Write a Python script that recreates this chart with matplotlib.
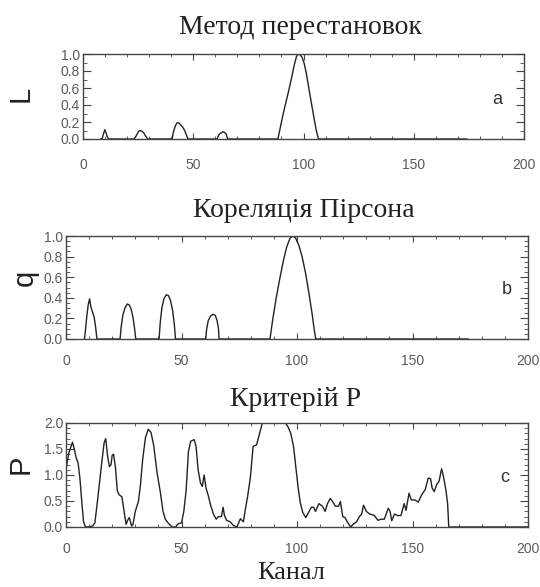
import numpy as np
import matplotlib
matplotlib.use('Agg')
import matplotlib.pyplot as plt
from matplotlib.ticker import MultipleLocator

# panel a: permutation method
chan_a = [8, 8.6, 9.3, 9.9, 10.5, 11.1, 11.7,
          23.2, 24.2, 25.2, 25.9, 26.8, 27.6, 28.5, 29.4,
          40.4, 41.0, 41.8, 42.6, 43.3, 44.2, 45.2, 46.1, 47.0, 47.6,
          60.8, 61.6, 62.5, 63.4, 64.1, 64.9, 65.6,
          88.4, 89.2, 90.0, 91.0, 92.2, 93.4, 94.6, 95.8, 96.8, 97.6, 98.5, 99.4,
          100.3, 101.3, 102.4, 103.6, 104.8, 105.9, 106.8, 174]
L_vals = [0, 0, 0.06, 0.11, 0.07, 0.02, 0,
          0, 0.04, 0.09, 0.10, 0.09, 0.07, 0.03, 0,
          0, 0.08, 0.15, 0.19, 0.19, 0.17, 0.14, 0.10, 0.04, 0,
          0, 0.05, 0.07, 0.085, 0.08, 0.06, 0,
          0, 0.10, 0.20, 0.32, 0.45, 0.58, 0.72, 0.87, 0.97, 1.0, 0.99, 0.96,
          0.89, 0.77, 0.60, 0.42, 0.24, 0.09, 0, 0]

# panel b: Pearson correlation
chan_b = [8, 8.4, 9.0, 9.6, 10.2, 10.8, 11.5, 12.2, 12.8, 13.4,
          23.4, 23.9, 24.6, 25.5, 26.5, 27.4, 28.2, 29.0, 29.7, 30.2,
          40.3, 40.8, 41.5, 42.4, 43.4, 44.4, 45.3, 46.2, 46.9, 47.4,
          60.5, 60.9, 61.6, 62.5, 63.6, 64.6, 65.4, 66.0, 66.3,
          88.3, 89.5, 91.0, 92.5, 94.0, 95.5, 97.0, 98.2, 99.4, 100.8, 102.2,
          103.7, 105.2, 106.5, 107.4, 108.1, 174]
q_vals = [0, 0.08, 0.22, 0.33, 0.39, 0.31, 0.26, 0.21, 0.12, 0,
          0, 0.12, 0.23, 0.30, 0.34, 0.33, 0.29, 0.21, 0.10, 0,
          0, 0.16, 0.30, 0.39, 0.43, 0.42, 0.37, 0.27, 0.14, 0,
          0, 0.10, 0.18, 0.22, 0.24, 0.23, 0.18, 0.10, 0,
          0, 0.19, 0.40, 0.58, 0.75, 0.89, 0.98, 1.0, 0.98, 0.91, 0.80,
          0.64, 0.44, 0.25, 0.10, 0, 0]

# panel c: P criterion
chan_c = [0, 1.2, 2.8, 3.6, 4.4, 5.2, 6.0, 6.8, 7.6, 8.4, 10.0, 11.5, 12.5, 13.5,
          14.5, 15.5, 16.5, 17.2, 18.0, 18.8, 19.5, 20.0, 20.6, 21.4, 22.2, 23.0,
          24.2, 25.0, 26.0, 26.8, 27.4, 28.4, 29.0, 30.0, 31.4, 32.2, 33.2, 34.4,
          35.6, 36.8, 38.0, 39.4, 40.8, 42.0, 43.0, 44.5, 46.0, 47.5, 48.5, 50.0,
          51.0, 52.0, 53.0, 54.0, 55.5, 56.3, 57.2, 58.2, 59.0, 59.8, 60.6, 61.5,
          62.6, 63.8, 65.0, 66.0, 67.3, 68.0, 68.6, 69.5, 71.0, 72.5, 74.0, 75.5,
          76.8, 77.5, 78.6, 79.8, 81.0, 82.5, 83.8, 85.0, 95.0, 96.2, 97.3, 98.5,
          99.5, 100.5, 101.5, 102.5, 103.8, 105.0, 106.2, 107.2, 108.0, 109.5,
          111.0, 112.2, 113.2, 114.4, 115.5, 116.6, 118.0, 118.8, 119.8, 120.8,
          121.5, 123.2, 124.5, 125.8, 127.0, 128.0, 128.8, 130.0, 131.5, 133.5,
          135.0, 136.5, 137.8, 139.5, 140.3, 141.0, 142.2, 143.5, 145.0, 146.4,
          147.2, 148.5, 149.5, 151.0, 152.5, 154.0, 155.5, 156.8, 157.8, 158.5,
          159.4, 160.5, 161.5, 162.6, 163.5, 164.5, 165.2, 165.7, 200]
P_vals = [1.12, 1.42, 1.63, 1.50, 1.33, 1.24, 0.95, 0.50, 0.10, 0.0, 0.0, 0.02, 0.08, 0.45,
          0.85, 1.25, 1.62, 1.70, 1.36, 1.16, 1.20, 1.38, 1.40, 1.15, 0.70, 0.62,
          0.58, 0.35, 0.05, 0.14, 0.18, 0.02, 0.05, 0.30, 0.50, 0.80, 1.30, 1.72,
          1.88, 1.82, 1.56, 1.05, 0.68, 0.30, 0.15, 0.06, 0.0, 0.0, 0.06, 0.08,
          0.30, 0.70, 1.45, 1.65, 1.68, 1.55, 1.10, 0.85, 0.78, 1.00, 0.75, 0.62,
          0.42, 0.25, 0.15, 0.20, 0.20, 0.38, 0.22, 0.13, 0.10, 0.03, 0.0, 0.16,
          0.10, 0.30, 0.58, 0.95, 1.55, 1.58, 1.80, 2.0, 2.0, 1.92, 1.80, 1.55,
          1.15, 0.75, 0.45, 0.28, 0.18, 0.28, 0.38, 0.38, 0.30, 0.45,
          0.40, 0.30, 0.45, 0.55, 0.48, 0.40, 0.40, 0.49, 0.20, 0.18,
          0.12, 0.0, 0.06, 0.10, 0.20, 0.25, 0.42, 0.30, 0.25, 0.22,
          0.13, 0.15, 0.15, 0.36, 0.30, 0.12, 0.25, 0.22, 0.22, 0.45,
          0.32, 0.65, 0.52, 0.52, 0.48, 0.62, 0.72, 0.94, 0.93, 0.75,
          0.68, 0.82, 0.88, 1.12, 0.95, 0.70, 0.45, 0.0, 0.0]

titles = ['Метод перестановок', 'Кореляція Пірсона', 'Критерій P']
ylabels = ['L', 'q', 'P']
letters = ['a', 'b', 'c']

W, H = 540, 587
fig = plt.figure(figsize=(W / 100, H / 100), dpi=100)


def box(left, right, top, bottom):
    return [left / W, 1 - bottom / H, (right - left) / W, (bottom - top) / H]


panels = [
    dict(x=chan_a, y=L_vals, rect=box(83, 524, 54, 139), ylim=(0, 1.0), major=0.2, minor=0.1,
         xpad=14, title_xy=(300, 27), ylab_xy=(21, 94), let_xy=(0.94, 0.46)),
    dict(x=chan_b, y=q_vals, rect=box(66, 528, 236, 339), ylim=(0, 1.0), major=0.2, minor=0.05,
         xpad=11, title_xy=(304, 211), ylab_xy=(25, 278), let_xy=(0.955, 0.48)),
    dict(x=chan_c, y=P_vals, rect=box(66, 528, 423, 527), ylim=(0, 2.0), major=0.5, minor=0.1,
         xpad=11, title_xy=(296, 400), ylab_xy=(21, 464), let_xy=(0.95, 0.48)),
]

tick_col = '#5a5a5a'
for i, p in enumerate(panels):
    ax = fig.add_axes(p['rect'])
    ax.plot(p['x'], p['y'], color='#222222', lw=1.0)
    ax.set_xlim(0, 200)
    ax.set_ylim(*p['ylim'])
    ax.xaxis.set_major_locator(MultipleLocator(50))
    ax.xaxis.set_minor_locator(MultipleLocator(10))
    ax.yaxis.set_major_locator(MultipleLocator(p['major']))
    ax.yaxis.set_minor_locator(MultipleLocator(p['minor']))
    ax.yaxis.set_major_formatter(plt.FormatStrFormatter('%.1f'))
    ax.tick_params(which='both', direction='in', top=True, right=True,
                   colors='#444444', labelcolor=tick_col, labelsize=10)
    ax.tick_params(axis='x', which='major', length=4, width=0.8, pad=p['xpad'])
    ax.tick_params(axis='x', which='minor', length=2.5, width=0.6)
    ax.tick_params(axis='y', which='major', length=6, width=0.8, pad=2)
    ax.tick_params(axis='y', which='minor', length=3, width=0.6)
    for lab in ax.get_xticklabels() + ax.get_yticklabels():
        lab.set_family('Liberation Sans')
    for s in ax.spines.values():
        s.set_color('#444444')
        s.set_linewidth(1.0)
    ax.text(p['let_xy'][0], p['let_xy'][1], letters[i], transform=ax.transAxes,
            ha='center', va='center', fontsize=13, color='#333333', family='Liberation Sans')
    tx, ty = p['title_xy']
    fig.text(tx / W, 1 - ty / H, titles[i], ha='center', va='center',
             fontsize=20, family='Liberation Serif', color='#222222')
    lx, ly = p['ylab_xy']
    fig.text(lx / W, 1 - ly / H, ylabels[i], ha='center', va='center', rotation=90,
             fontsize=21, family='Liberation Sans', color='#222222')

fig.text(291 / W, 1 - 579 / H, 'Канал', ha='center', va='baseline',
         fontsize=19, family='Liberation Serif', color='#222222')

fig.savefig('out.png', dpi=100)
